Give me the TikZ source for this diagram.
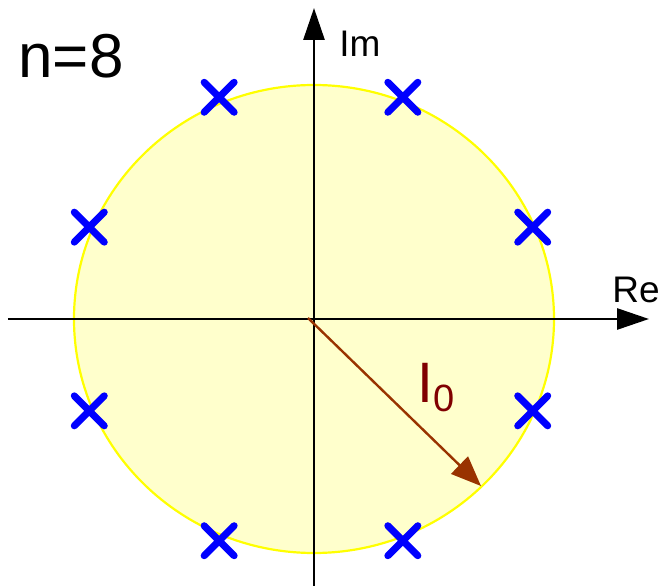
\documentclass[tikz,border=0pt]{standalone}
\usepackage{fontspec}
\setmainfont{Liberation Sans}
\usetikzlibrary{
  positioning,
  arrows.meta,
  calc,
  shapes.misc
}
\definecolor{disk}{HTML}{FFFFCC}
\definecolor{rim}{HTML}{FFFF00}
\definecolor{pole}{HTML}{0000FF}
\definecolor{radcol}{HTML}{993300}
\definecolor{radlabel}{HTML}{800000}

\begin{document}
\begin{tikzpicture}[
  x=1pt, y=1pt,
  axis/.style={line width=2.8pt, -{Triangle[length=32pt,width=21pt]}},
  polemark/.style={cross out, draw=pole, line width=7pt, line cap=round,
                   minimum size=30pt, inner sep=0pt, outer sep=0pt},
  axlabel/.style={font=\fontsize{37}{37}\selectfont, inner sep=0pt}
]
  \useasboundingbox (-314,-267) rectangle (350,319);

  % Unit circle
  \filldraw[fill=disk, draw=rim, line width=2.2pt] (0,0) ellipse [x radius=240, y radius=234];

  % Axes
  \coordinate (xl) at (-306,0);
  \coordinate (xr) at (335,0);
  \coordinate (yb) at (0,-267);
  \coordinate (yt) at (0,311);
  \draw[axis] (xl) -- (xr);
  \draw[axis] (yb) -- (yt);
  \node[axlabel] (re) at (322,29) {Re};
  \node[axlabel] (im) at (46,275) {Im};

  % Poles
  \coordinate (c) at (-3,0);
  \foreach \a [count=\i] in {22.5,67.5,...,337.5}
    \node[polemark] (p\i) at ($(c)+(\a:240)$) {};

  % Radius
  \coordinate (o) at (-6,1);
  \coordinate (tip) at (167,-167);
  \draw[draw=radcol, fill=radcol, line width=2.4pt, -{Triangle[length=30pt,width=24pt]}] (o) -- (tip);
  \node[anchor=base west, inner sep=0pt, text=radlabel, font=\fontsize{57}{57}\selectfont]
    (i0) at (103,-84) {I\raisebox{-9pt}{\fontsize{38}{38}\selectfont 0}};

  % Order
  \node[font=\fontsize{62}{62}\selectfont, inner sep=0pt] (n) at (-243,263) {n=8};
\end{tikzpicture}
\end{document}
